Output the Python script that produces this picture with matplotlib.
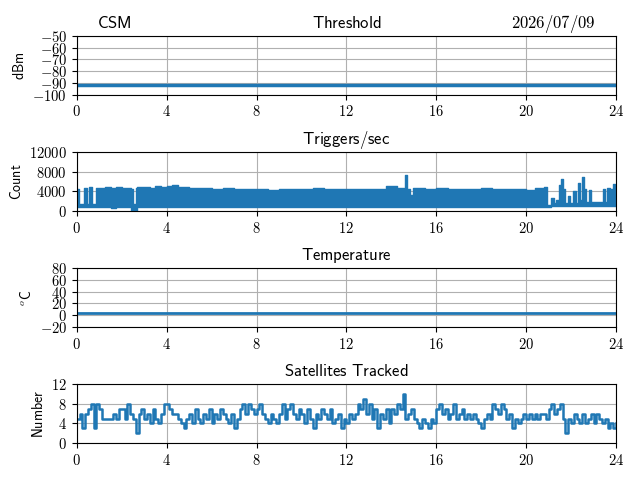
import numpy as np
import matplotlib
matplotlib.use("Agg")
import matplotlib.pyplot as plt
from matplotlib.ticker import FuncFormatter
from matplotlib.transforms import offset_copy

plt.rcParams['mathtext.fontset'] = 'cm'

# ---------------------------------------------------------------
# data
hours = list(range(25))
threshold = [-92, -92, -92, -92, -92, -92, -92, -92, -92, -92, -92, -92, -92,
             -92, -92, -92, -92, -92, -92, -92, -92, -92, -92, -92, -92]
temperature = [3.5] * 25

# triggers/sec band: start time of each step, top and bottom of the band
trig_t = [0.0, 0.12, 0.3, 0.45, 0.55, 0.68, 0.85, 1.0, 1.25, 1.5, 1.75, 2.0,
          2.25, 2.42, 2.5, 2.62, 2.7, 3.0, 3.25, 3.5, 3.75, 4.0, 4.25, 4.5,
          4.75, 5.0, 5.5, 6.0, 6.5, 7.0, 7.5, 8.0, 8.5, 9.0, 9.5, 10.0, 10.5,
          11.0, 11.5, 12.0, 12.5, 13.0, 13.5, 13.75, 14.25, 14.6, 14.7, 14.85,
          14.95, 15.5, 16.0, 16.5, 17.0, 17.5, 18.0, 18.5, 19.0, 19.5, 20.0,
          20.4, 20.8, 20.95, 21.1, 21.25, 21.35, 21.45, 21.55, 21.65, 21.75,
          21.85, 21.95, 22.1, 22.2, 22.3, 22.38, 22.48, 22.58, 22.66, 22.78,
          22.88, 23.0, 23.4, 23.5, 23.6, 23.75, 23.85, 23.95, 24.0]
trig_hi = [4400, 1300, 4600, 1300, 4800, 1300, 4600, 4700, 4900, 4700, 4800, 4700,
           4600, 4500, 1400, 4600, 4800, 4900, 4700, 5000, 4800, 5000, 5200, 4800,
           4900, 4600, 4700, 4500, 4600, 4500, 4400, 4500, 4300, 4400, 4500, 4400, 4600,
           4400, 4500, 4400, 4500, 4400, 4500, 5000, 4600, 7300, 4500, 3200,
           4600, 4500, 4600, 4400, 4500, 4400, 4600, 4400, 4500, 4400, 4300,
           4700, 4800, 1200, 2600, 1500, 2200, 5200, 6500, 4500, 1600,
           3000, 1500, 4100, 1600, 5600, 2200, 6900, 4400, 1800, 4300,
           1800, 1700, 4400, 1700, 4700, 4400, 5500, 4900, 4900]
trig_lo = [700, 700, 700, 700, 700, 700, 700, 700, 700, 600, 700, 700,
           700, 0, 0, 0, 700, 700, 700, 700, 700, 700, 700, 700,
           700, 700, 700, 700, 700, 700, 700, 700, 700, 700, 700, 700, 700,
           700, 700, 700, 700, 700, 700, 700, 700, 700, 700, 700,
           700, 700, 700, 700, 700, 700, 700, 700, 700, 700, 700,
           700, 700, 700, 900, 900, 900, 1000, 1000, 1000, 1000,
           1000, 1000, 1000, 1000, 1000, 1000, 1000, 1000, 1000, 1000,
           1000, 1000, 1000, 1000, 900, 900, 900, 900, 900]

# satellites tracked, every 1/8 hour
sats = [5, 6, 3, 6, 7, 8, 3, 8,
        7, 5, 5, 5, 5, 6, 5, 7,
        7, 5, 8, 6, 5, 2, 6, 7,
        5, 6, 4, 7, 5, 4, 6, 8,
        8, 7, 6, 6, 5, 4, 3, 5,
        6, 4, 7, 5, 4, 6, 5, 7,
        4, 6, 5, 7, 6, 5, 4, 6,
        3, 5, 7, 8, 6, 8, 7, 6,
        7, 8, 6, 5, 4, 6, 5, 4,
        6, 8, 5, 7, 8, 6, 5, 7,
        6, 4, 7, 5, 3, 6, 5, 7,
        6, 5, 7, 4, 5, 6, 3, 5,
        4, 6, 5, 6, 8, 7, 9, 6,
        8, 5, 7, 3, 6, 5, 7, 4,
        7, 6, 8, 7, 10, 5, 6, 7,
        5, 4, 3, 5, 4, 3, 5, 4,
        7, 8, 6, 7, 5, 6, 8, 5,
        6, 7, 5, 6, 5, 6, 5, 4,
        3, 5, 6, 5, 8, 7, 6, 8,
        7, 5, 6, 3, 5, 4, 5, 6,
        5, 6, 5, 6, 5, 6, 6, 5,
        7, 8, 6, 7, 8, 5, 2, 5,
        4, 6, 5, 4, 6, 4, 5, 6,
        4, 6, 5, 4, 5, 3, 4, 3,
        4]
sat_t = np.arange(len(sats)) / 8.0

# ---------------------------------------------------------------
def sf(s):
    # computer modern sans, like the latex original
    return r'$\mathsf{%s}$' % s.replace(' ', r'\ ')

mathfmt = FuncFormatter(lambda v, p: r'$%d$' % v)

fig, axs = plt.subplots(4, 1, figsize=(6.4, 4.8), dpi=100)
fig.subplots_adjust(left=0.12, right=0.9625, top=0.925, bottom=0.077, hspace=0.98)

axs[0].plot(hours, threshold, color='C0', lw=2.5)
axs[0].set_ylim(-100, -50)
axs[0].set_yticks(range(-100, -49, 10))
axs[0].set_ylabel(sf('dBm'))
axs[0].set_title(sf('Threshold'))
tr = offset_copy(axs[0].transAxes, fig=fig, y=6, units='points')
axs[0].text(0.038, 1.0, sf('CSM'), transform=tr, ha='left', va='baseline', fontsize=12)
axs[0].text(0.962, 1.0, sf('2026/07/09'), transform=tr, ha='right', va='baseline', fontsize=12)

axs[1].fill_between(trig_t, trig_lo, trig_hi, step='post', color='C0', lw=1)
axs[1].set_ylim(0, 12000)
axs[1].set_yticks([0, 4000, 8000, 12000])
axs[1].set_ylabel(sf('Count'))
axs[1].set_title(sf('Triggers/sec'))

axs[2].plot(hours, temperature, color='C0', lw=2)
axs[2].set_ylim(-20, 80)
axs[2].set_yticks(range(-20, 81, 20))
axs[2].set_ylabel(r'$^o\mathsf{C}$')
axs[2].set_title(sf('Temperature'))

axs[3].plot(sat_t, sats, color='C0', lw=1.8, drawstyle='steps-post')
axs[3].set_ylim(0, 12)
axs[3].set_yticks([0, 4, 8, 12])
axs[3].set_ylabel(sf('Number'))
axs[3].set_title(sf('Satellites Tracked'))

for ax in axs:
    ax.set_xlim(0, 24)
    ax.set_xticks(range(0, 25, 4))
    ax.grid(True)
    ax.set_axisbelow(True)
    ax.xaxis.set_major_formatter(mathfmt)
    ax.yaxis.set_major_formatter(mathfmt)
    ax.tick_params(labelsize=10.5)

plt.savefig('out.png')
